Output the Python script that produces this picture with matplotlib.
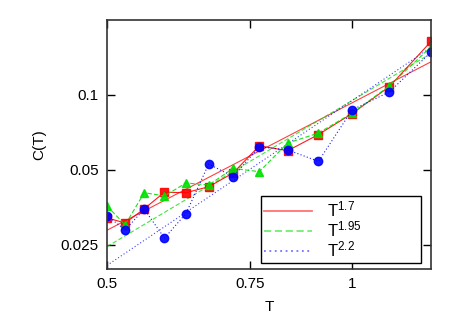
import numpy as np
import matplotlib
matplotlib.use('Agg')
import matplotlib.pyplot as plt

plt.rcParams['font.family'] = ['Liberation Sans', 'DejaVu Sans']
plt.rcParams['mathtext.fontset'] = 'custom'
plt.rcParams['mathtext.rm'] = 'Liberation Sans'
plt.rcParams['mathtext.it'] = 'Liberation Sans'

# temperaturas (T = 1/beta)
T = 1.0 / np.array([2.0, 1.9, 1.8, 1.7, 1.6, 1.5, 1.4, 1.3, 1.2, 1.1, 1.0, 0.9, 0.8])

# datos de C(T)
c_rojo = [0.0321, 0.0306, 0.0349, 0.0407, 0.0405, 0.0428, 0.0486, 0.0625,
          0.0597, 0.0693, 0.0842, 0.108, 0.164]
c_verde = [0.0358, 0.0301, 0.0405, 0.0393, 0.0443, 0.0435, 0.0507, 0.0492,
           0.0641, 0.0703, 0.0845, 0.1087, 0.156]
c_azul = [0.0328, 0.0287, 0.0348, 0.0266, 0.0334, 0.0528, 0.047, 0.0619,
          0.0602, 0.0541, 0.0871, 0.1028, 0.1486]

# leyes de potencia
exponentes = [1.7, 1.95, 2.2]
prefactores = [0.093, 0.095, 0.095]
etiquetas = ['$\\mathrm{T}^{1.7}$', '$\\mathrm{T}^{1.95}$', '$\\mathrm{T}^{2.2}$']

rojo, verde, azul = '#ff0000', '#00e000', '#0000ff'

fig = plt.figure(figsize=(4.6, 3.21), dpi=100)
ax = fig.add_axes([0.2326, 0.162, 0.7044, 0.7757])

tt = np.linspace(0.5, 1.25, 200)
estilos = [(rojo, '-'), (verde, (0, (4, 2))), (azul, (0, (1, 2)))]
for (col, ls), e, a, lab in zip(estilos, exponentes, prefactores, etiquetas):
    ax.plot(tt, a * tt**e, color=col, ls=ls, lw=0.8, alpha=0.75, label=lab)

ax.plot(T, c_rojo, color=rojo, ls='-', lw=0.8, marker='s', ms=6, alpha=0.9)
ax.plot(T, c_verde, color=verde, ls=(0, (4, 2)), lw=0.8, marker='^', ms=6, alpha=0.9)
ax.plot(T, c_azul, color=azul, ls=(0, (1, 2)), lw=0.8, marker='o', ms=6, alpha=0.9)

ax.set_xscale('log')
ax.set_yscale('log')
ax.set_xlim(0.5, 1.25)
ax.set_ylim(0.02, 0.2)
ax.minorticks_off()
ax.set_xticks([0.5, 0.75, 1])
ax.set_xticklabels(['0.5', '0.75', '1'])
ax.set_yticks([0.025, 0.05, 0.1])
ax.set_yticklabels(['0.025', '0.05', '0.1'])
ax.tick_params(direction='in', top=True, right=True, length=6, width=1,
               labelsize=11, pad=6)
for s in ax.spines.values():
    s.set_linewidth(1.2)
    s.set_color('#333333')

ax.set_xlabel('T', fontsize=11, labelpad=6)
ax.set_ylabel('C(T)', fontsize=11, labelpad=10)

leg = ax.legend(loc='lower left', bbox_to_anchor=(0.474, 0.025, 0.494, 0.265),
                mode='expand', fontsize=12, handlelength=2.9, handletextpad=0.9,
                labelspacing=0.0, borderpad=0.2, fancybox=False, framealpha=1,
                borderaxespad=0)
leg.get_frame().set_edgecolor('black')
leg.get_frame().set_linewidth(1.0)
for h in leg.get_lines():
    h.set_linewidth(1.3)
    h.set_alpha(0.55)

fig.savefig('out.png', dpi=100)
